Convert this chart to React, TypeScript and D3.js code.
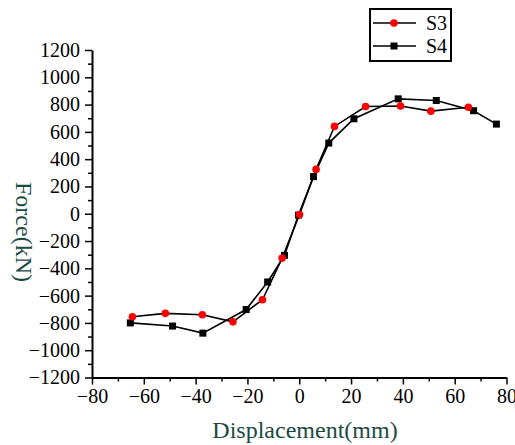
import { useEffect, useRef } from 'react';
import * as d3 from 'd3';

// displacement (mm) / force (kN)
const s3Disp = [-64.4, -51.7, -37.4, -25.6, -14.2, -6.6, 0.1, 6.5, 13.6, 25.6, 39.1, 50.8, 65.3];
const s3Force = [-755, -730, -740, -792, -630, -325, -5, 325, 640, 786, 790, 752, 780];
const s4Disp = [-65.2, -48.9, -37.2, -20.5, -12.2, -5.7, -0.3, 5.5, 11.4, 21.1, 38.2, 52.9, 67.3, 76.1];
const s4Force = [-800, -823, -875, -702, -500, -305, -10, 272, 518, 696, 842, 830, 755, 657];

const xTicks = [-80, -60, -40, -20, 0, 20, 40, 60, 80];
const yTicks = [-1200, -1000, -800, -600, -400, -200, 0, 200, 400, 600, 800, 1000, 1200];

const W = 515;
const H = 445;
const titleColor = '#1b4a43';
const font = '"Liberation Serif", "Times New Roman", serif';

export default function App() {
  const ref = useRef<SVGSVGElement>(null);

  useEffect(() => {
    const svg = d3.select(ref.current);
    svg.selectAll('*').remove();

    const x = d3.scaleLinear().domain([-80, 80]).range([92, 506.5]);
    const y = d3.scaleLinear().domain([-1200, 1200]).range([377.5, 50]);

    // minor ticks first
    const xMinor = d3.range(-70, 80, 20);
    const yMinor = d3.range(-1100, 1200, 200);
    svg.append('g')
      .attr('transform', `translate(0,${y(-1200)})`)
      .call(d3.axisBottom(x).tickValues(xMinor).tickSize(4).tickFormat(() => ''))
      .call((g) => g.select('.domain').remove())
      .selectAll('line').attr('stroke', '#000').attr('stroke-width', 1.5);
    svg.append('g')
      .attr('transform', `translate(${x(-80)},0)`)
      .call(d3.axisLeft(y).tickValues(yMinor).tickSize(4).tickFormat(() => ''))
      .call((g) => g.select('.domain').remove())
      .selectAll('line').attr('stroke', '#000').attr('stroke-width', 1.5);

    const fmt = (d: d3.NumberValue) => String(d).replace('-', '\u2212');

    const gx = svg.append('g')
      .attr('transform', `translate(0,${y(-1200)})`)
      .call(d3.axisBottom(x).tickValues(xTicks).tickSize(7).tickSizeOuter(0).tickPadding(4).tickFormat(fmt));
    const gy = svg.append('g')
      .attr('transform', `translate(${x(-80)},0)`)
      .call(d3.axisLeft(y).tickValues(yTicks).tickSize(7).tickSizeOuter(0).tickPadding(5).tickFormat(fmt));
    [gx, gy].forEach((g) => {
      g.select('.domain').attr('stroke', '#000').attr('stroke-width', 2);
      g.selectAll('line').attr('stroke', '#000').attr('stroke-width', 1.5);
      g.selectAll('text').attr('font-family', font).attr('font-size', 20).attr('fill', '#000');
    });

    svg.append('text')
      .attr('x', 305).attr('y', 438)
      .attr('text-anchor', 'middle')
      .attr('font-family', font).attr('font-size', 24)
      .attr('fill', titleColor)
      .text('Displacement(mm)');

    svg.append('text')
      .attr('transform', `translate(16,232) rotate(90)`)
      .attr('text-anchor', 'middle')
      .attr('font-family', font).attr('font-size', 24)
      .attr('fill', titleColor)
      .text('Force(kN)');

    const drawSeries = (dx: number[], fy: number[]) => {
      const pts = dx.map((d, i) => [x(d), y(fy[i])] as [number, number]);
      svg.append('path')
        .attr('d', d3.line()(pts))
        .attr('fill', 'none').attr('stroke', '#000').attr('stroke-width', 1.6);
      return pts;
    };

    const p4 = drawSeries(s4Disp, s4Force);
    const p3 = drawSeries(s3Disp, s3Force);

    svg.append('g').selectAll('rect').data(p4).join('rect')
      .attr('x', (d) => d[0] - 3.5).attr('y', (d) => d[1] - 3.5)
      .attr('width', 7).attr('height', 7).attr('fill', '#000');
    svg.append('g').selectAll('circle').data(p3).join('circle')
      .attr('cx', (d) => d[0]).attr('cy', (d) => d[1])
      .attr('r', 3.8).attr('fill', '#f00');

    // legend
    const lg = svg.append('g');
    lg.append('rect')
      .attr('x', 370).attr('y', 9).attr('width', 81).attr('height', 52)
      .attr('fill', '#fff').attr('stroke', '#000').attr('stroke-width', 2);
    const entries = [
      { name: 'S3', yy: 23, kind: 'circle' },
      { name: 'S4', yy: 46, kind: 'rect' },
    ];
    entries.forEach((e) => {
      lg.append('line')
        .attr('x1', 373).attr('x2', 416).attr('y1', e.yy).attr('y2', e.yy)
        .attr('stroke', '#000').attr('stroke-width', 1.6);
      if (e.kind === 'circle') {
        lg.append('circle').attr('cx', 394).attr('cy', e.yy).attr('r', 3.8).attr('fill', '#f00');
      } else {
        lg.append('rect').attr('x', 390.5).attr('y', e.yy - 3.5).attr('width', 7).attr('height', 7).attr('fill', '#000');
      }
      lg.append('text')
        .attr('x', 426).attr('y', e.yy + 7)
        .attr('font-family', font).attr('font-size', 20)
        .text(e.name);
    });
  }, []);

  return (
    <svg
      ref={ref}
      width={W}
      height={H}
      style={{ position: 'absolute', left: 0, top: 0, background: '#fff' }}
    />
  );
}
